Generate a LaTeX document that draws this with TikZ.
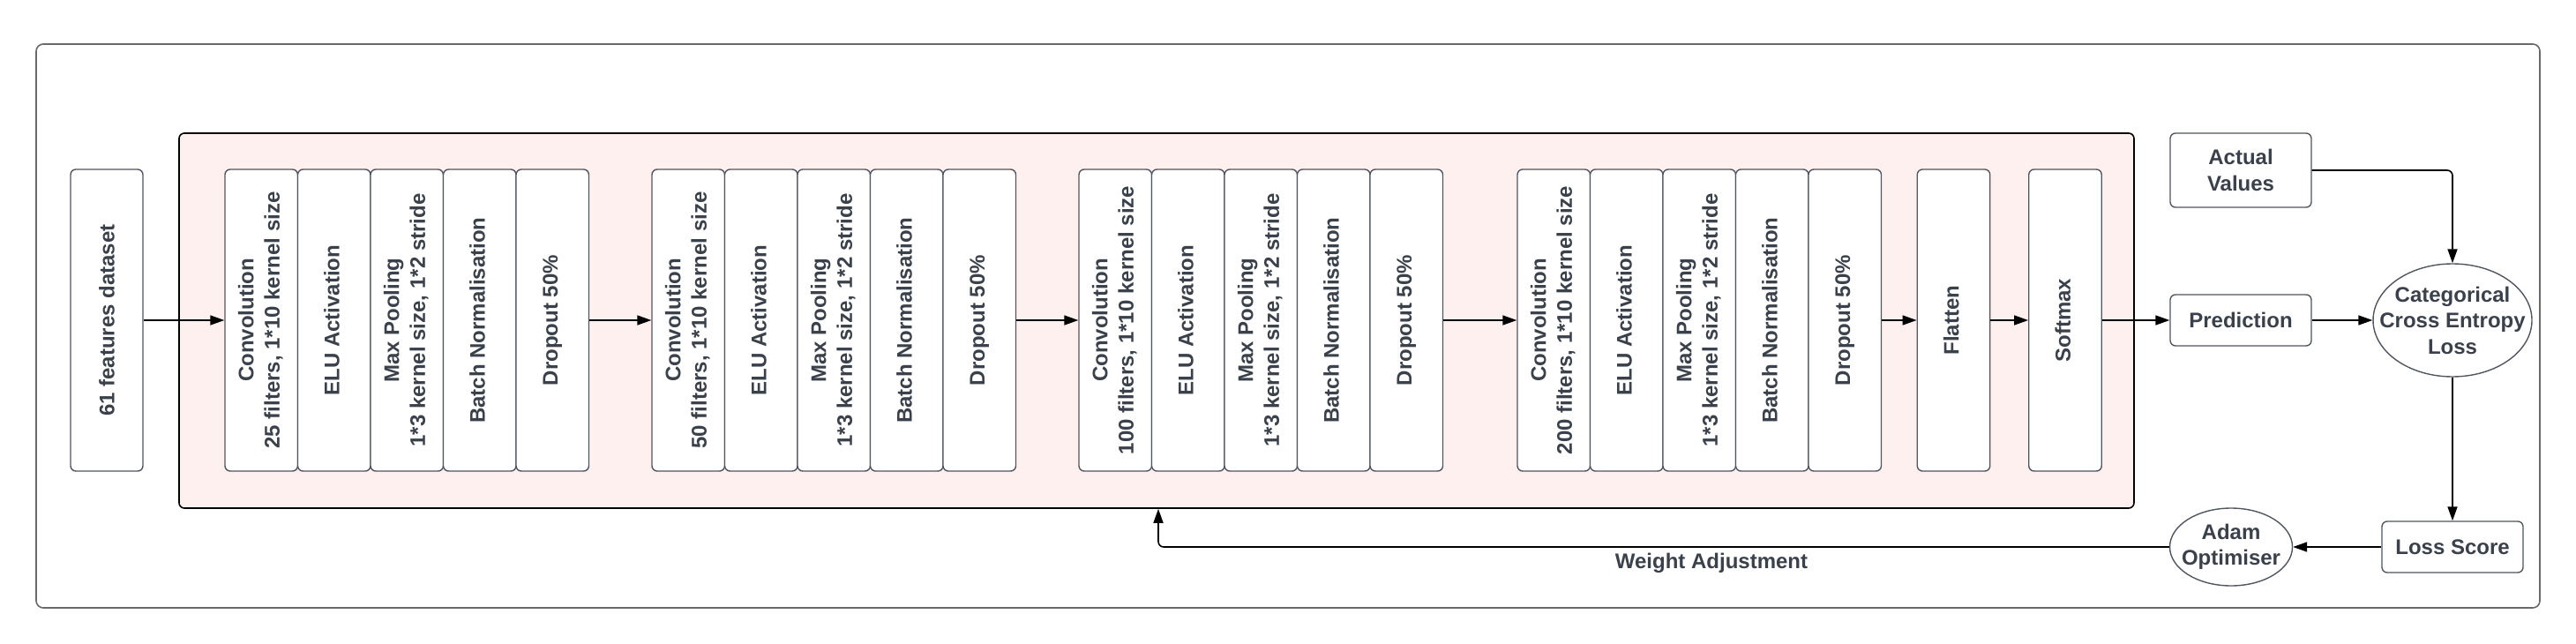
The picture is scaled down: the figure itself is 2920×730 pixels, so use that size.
\documentclass[tikz,border=0pt]{standalone}
\usepackage{fontspec}
\setmainfont{Liberation Sans}
\usepackage{graphicx}
\usetikzlibrary{shapes.geometric,arrows.meta}
\definecolor{txt}{RGB}{58,65,74}
\definecolor{pinkbg}{RGB}{255,240,240}
\definecolor{bord}{RGB}{80,85,95}
\definecolor{framec}{RGB}{105,105,105}
\newcommand\lyr[3]{\node[layer] (#1) at (#2,363) {\rotatebox{90}{\begin{tabular}{@{}c@{}}#3\end{tabular}}};}
\begin{document}
\begin{tikzpicture}[x=1pt,y=-1pt,
  every node/.style={font=\fontsize{24}{29.5}\selectfont\bfseries, text=txt},
  layer/.style={draw=bord, line width=1.4pt, fill=white, rounded corners=6pt,
    minimum width=82.5pt, minimum height=342pt, inner sep=0pt},
  rbox/.style={draw=bord, line width=1.4pt, fill=white, rounded corners=6pt,
    minimum width=160pt, inner sep=0pt, align=center},
  ebox/.style={draw=bord, line width=1.4pt, fill=white, ellipse, inner sep=0pt},
  conn/.style={draw=black, line width=1.6pt, -{Triangle[length=16pt,width=11pt]}}
]
\useasboundingbox (0,0) rectangle (2920,730);
\node[draw=framec, line width=1.6pt, rounded corners=8pt, minimum width=2838pt, minimum height=639pt, inner sep=0pt] (frame) at (1460,369.5) {};
\node[draw=black, fill=pinkbg, line width=1.6pt, rounded corners=6pt, minimum width=2216pt, minimum height=425pt, inner sep=0pt] (pink) at (1311,363.5) {};

\node[layer, minimum width=82pt] (inp) at (121,363) {\rotatebox{90}{61 features dataset}};

\lyr{c1}{296.25}{Convolution\\25 filters, 1*10 kernel size}
\lyr{e1}{378.75}{ELU Activation}
\lyr{m1}{461.25}{Max Pooling\\1*3 kernel size, 1*2 stride}
\lyr{b1}{543.75}{Batch Normalisation}
\lyr{d1}{626.25}{Dropout 50\%}

\lyr{c2}{780.25}{Convolution\\50 filters, 1*10 kernel size}
\lyr{e2}{862.75}{ELU Activation}
\lyr{m2}{945.25}{Max Pooling\\1*3 kernel size, 1*2 stride}
\lyr{b2}{1027.75}{Batch Normalisation}
\lyr{d2}{1110.25}{Dropout 50\%}

\lyr{c3}{1264.25}{Convolution\\100 filters, 1*10 kernel size}
\lyr{e3}{1346.75}{ELU Activation}
\lyr{m3}{1429.25}{Max Pooling\\1*3 kernel size, 1*2 stride}
\lyr{b3}{1511.75}{Batch Normalisation}
\lyr{d3}{1594.25}{Dropout 50\%}

\lyr{c4}{1761.25}{Convolution\\200 filters, 1*10 kernel size}
\lyr{e4}{1843.75}{ELU Activation}
\lyr{m4}{1926.25}{Max Pooling\\1*3 kernel size, 1*2 stride}
\lyr{b4}{2008.75}{Batch Normalisation}
\lyr{d4}{2091.25}{Dropout 50\%}

\lyr{fl}{2214.5}{Flatten}
\lyr{sm}{2341}{Softmax}

\node[rbox, minimum height=84pt] (act) at (2540,193) {Actual\\Values};
\node[rbox, minimum height=58pt] (pred) at (2540,363) {Prediction};
\node[ebox, minimum width=180pt, minimum height=128pt] (cce) at (2780,363) {};
\node[align=center] (ccet) at (cce.center) {Categorical\\Cross Entropy\\Loss};
\node[rbox, minimum height=58pt] (loss) at (2780,620) {Loss Score};
\node[ebox, minimum width=139pt, minimum height=88pt] (adam) at (2529,620) {};
\node[align=center] (adamt) at (adam.center) {Adam\\Optimiser};

\draw[conn] (inp) -- (c1);
\draw[conn] (d1) -- (c2);
\draw[conn] (d2) -- (c3);
\draw[conn] (d3) -- (c4);
\draw[conn] (d4) -- (fl);
\draw[conn] (fl) -- (sm);
\draw[conn] (sm) -- (pred);
\draw[conn] (pred) -- (cce);
\draw[conn, rounded corners=6pt] (act.east) -| (cce.north);
\draw[conn] (cce.south) -- (loss.north);
\draw[conn] (loss.west) -- (adam.east);
\coordinate (wa) at (1313,620);
\draw[conn, rounded corners=6pt] (adam.west) -- (wa) -- (wa |- pink.south);
\node (wlab) at (1940,638) {Weight Adjustment};
\end{tikzpicture}
\end{document}
